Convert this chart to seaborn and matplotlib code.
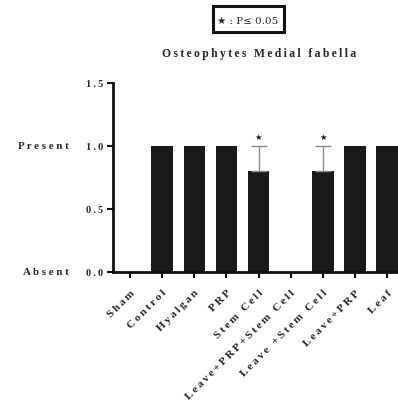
import matplotlib
matplotlib.use("Agg")
import matplotlib.pyplot as plt
import seaborn as sns
import pandas as pd
from matplotlib.patches import Rectangle

groups = ["Sham", "Control", "Hyalgan", "PRP", "Stem Cell",
          "Leave+PRP+Stem Cell", "Leave +Stem Cell", "Leave+PRP", "Leaf"]
means = [0.0, 1.0, 1.0, 1.0, 0.8, 0.0, 0.8, 1.0, 1.0]
upper_err = [0.0, 0.0, 0.0, 0.0, 0.2, 0.0, 0.2, 0.0, 0.0]
significant = [False, False, False, False, True, False, True, False, False]
y_ticks = [0.0, 0.5, 1.0, 1.5]
y_levels = {"Present": 1.0, "Absent": 0.0}

sns.set_style("ticks")
plt.rcParams["font.family"] = ["Liberation Serif", "DejaVu Sans"]

SP = "\u2009"


def spaced(s, sep=SP):
    return sep.join(list(s))


df = pd.DataFrame({"group": groups, "value": means})

fig = plt.figure(figsize=(3.98, 4.05), dpi=100)
ax = fig.add_axes([0.284, 0.328, 0.716, 0.467])

sns.barplot(data=df, x="group", y="value", order=groups, color="#1b1a18",
            saturation=1, width=0.67, errorbar=None, ax=ax)
for p in ax.patches:
    p.set_edgecolor("none")

xs = list(range(len(groups)))
err_x = [x for x, e in zip(xs, upper_err) if e > 0]
err_y = [m for m, e in zip(means, upper_err) if e > 0]
err_v = [e for e in upper_err if e > 0]
ax.errorbar(err_x, err_y, yerr=[[0] * len(err_v), err_v], fmt="none",
            ecolor="#8a8a8a", elinewidth=1.0, capsize=6, capthick=1.0)

for x, m, e, s in zip(xs, means, upper_err, significant):
    if s:
        ax.text(x, m + e + 0.03, "\u2605", ha="center", va="bottom",
                fontsize=6, color="#111111", family=["DejaVu Sans"])

ax.set_xlim(-0.53, 8.34)
ax.set_ylim(0, 1.5)
ax.set_yticks(y_ticks)
ax.set_yticklabels([spaced(f"{t:.1f}") for t in y_ticks], fontsize=7.5,
                   fontweight="bold")
ax.set_xticks(xs)
ax.set_xticklabels([spaced(g) for g in groups], rotation=45, ha="right",
                   rotation_mode="anchor", fontsize=8.1, fontweight="bold")
ax.set_xlabel("")
ax.set_ylabel("")
ax.tick_params(axis="both", direction="out", length=4, width=1.5,
               color="#111111")
ax.tick_params(axis="x", pad=8)
ax.tick_params(axis="y", pad=3)
for side in ["top", "right"]:
    ax.spines[side].set_visible(False)
for side in ["left", "bottom"]:
    ax.spines[side].set_linewidth(2)
    ax.spines[side].set_color("#111111")

for name, yv in y_levels.items():
    ax.text(-0.155, yv, spaced(name, " "), transform=ax.get_yaxis_transform(),
            ha="right", va="center", fontsize=7.8, fontweight="bold")

fig.text(0.651, 0.866, spaced("Osteophytes Medial fabella"), ha="center",
         va="center", fontsize=8.4, fontweight="bold")

fig.text(0.623, 0.947, "\u2605 : P\u2264 0.05", ha="center", va="center",
         fontsize=7.5, family=["DejaVu Serif", "DejaVu Sans"])
fig.add_artist(Rectangle((0.535, 0.920), 0.178, 0.065, transform=fig.transFigure,
                         fill=False, linewidth=2.2, edgecolor="#111111"))

fig.savefig("out.png", dpi=100)
